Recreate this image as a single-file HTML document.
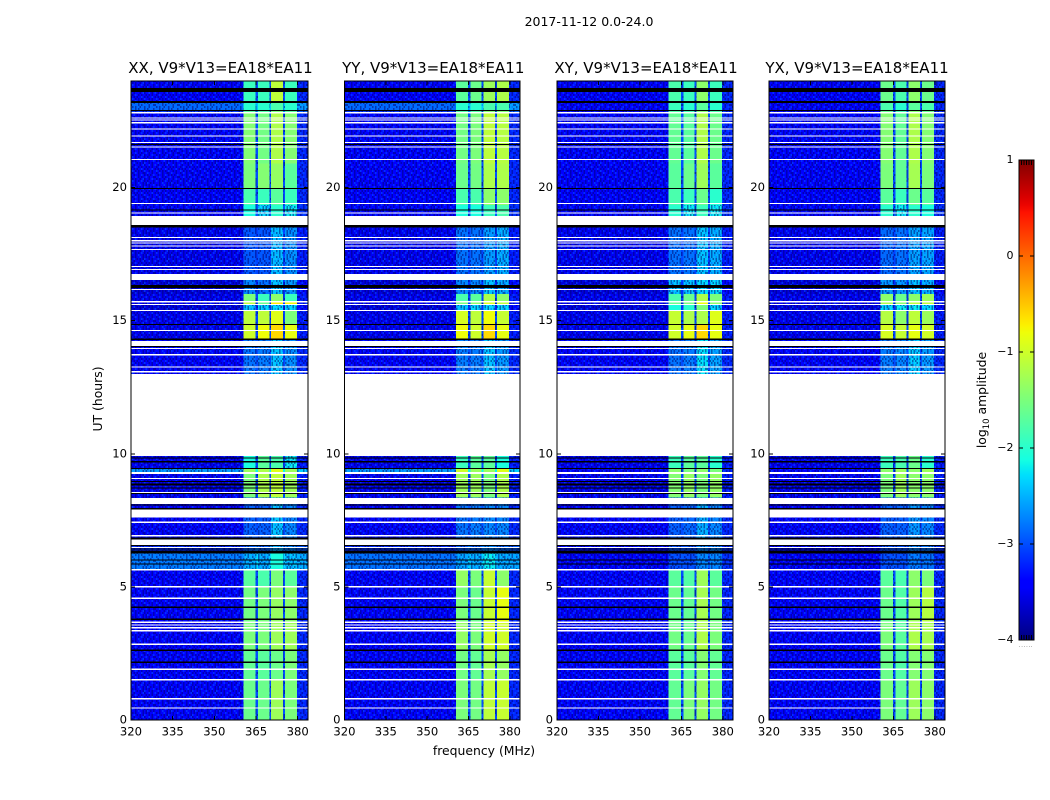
<!DOCTYPE html>
<html lang="en">
<head>
<meta charset="utf-8">
<title>2017-11-12 0.0-24.0 dynamic spectra</title>
<style>
html,body{margin:0;padding:0;background:#fff;}
svg{display:block;}
text{font-family:"DejaVu Sans","Liberation Sans",sans-serif;fill:#000;}
</style>
</head>
<body>
<svg id="figure" xmlns="http://www.w3.org/2000/svg" width="1050" height="800" viewBox="0 0 1050 800">
  <defs>
    <linearGradient id="jetGradient" x1="0" y1="1" x2="0" y2="0"></linearGradient>
    <pattern id="speckle" patternUnits="userSpaceOnUse" width="24" height="24"></pattern>
  </defs>
  <rect width="1050" height="800" fill="#fff"/>
  <text x="589" y="26" text-anchor="middle" font-size="12.5">2017-11-12 0.0-24.0</text>
  <g id="panels"></g>
  <text transform="translate(102,399) rotate(-90)" text-anchor="middle" font-size="12.4">UT (hours)</text>
  <text x="484" y="755" text-anchor="middle" font-size="12.4">frequency (MHz)</text>
  <g id="colorbar"></g>
  <text transform="translate(986,400) rotate(-90)" text-anchor="middle" font-size="12.4">log<tspan font-size="8.5" dy="3">10</tspan><tspan dy="-3"> amplitude</tspan></text>
  <text x="1026" y="647" text-anchor="middle" font-size="6" letter-spacing="0.5" style="fill:#777">......</text>
</svg>
<script>
// ---- Chart data -------------------------------------------------------
const polarizationTitles = ["XX, V9*V13=EA18*EA11", "YY, V9*V13=EA18*EA11", "XY, V9*V13=EA18*EA11", "YX, V9*V13=EA18*EA11"];
const frequencyTicks = [320, 335, 350, 365, 380];
const hourTicks = [0, 5, 10, 15, 20];
const colorbarTicks = [1, 0, -1, -2, -3, -4];

// Frequency channel groups in MHz: background, four bright sub-bands, notches between them, upper edge
const channelStartMHz = [320, 360.4, 364.8, 365.7, 369.8, 370.4, 374.7, 375.4, 379.7];
const channelEndMHz = [360.4, 364.8, 365.7, 369.8, 370.4, 374.7, 375.4, 379.7, 383.7];
// Which column of a level row each channel reads (0 background, 1-4 sub-bands)
const channelLevelColumn = [0, 1, 0, 2, 0, 3, 0, 4, 0];
// Added log10 amplitude per channel (notches and upper edge sit a little above background)
const channelLevelOffset = [0, 0, 0.45, 0, 0.45, 0, 0.45, 0, 0.25];

// Observation epochs in UT hours
const epochStartHour = [24, 23.2, 22.85, 20.9, 19.95, 19.35, 18.6, 16.55, 16, 15.72, 15.62, 15.4, 14.88, 14.3, 9.92, 9.45, 9.3, 8.35, 6.8, 6.26, 5.65, 5, 3.7, 2.6, 1.5];
const epochEndHour = [23.2, 22.85, 20.9, 19.95, 19.35, 18.9, 16.7, 16, 15.72, 15.62, 15.4, 14.88, 14.3, 13, 9.45, 9.3, 8.35, 6.8, 6.26, 5.65, 5, 3.7, 2.6, 1.5, 0];

// log10 amplitude per epoch: [background, band 1, band 2, band 3, band 4]
const levelsXX = [
[-3.45,-1.9,-1.9,-1.1,-1.9],[-2.85,-2,-2,-1.8,-2],[-3.45,-1.45,-1.55,-1.2,-1.45],[-3.45,-1.5,-1.45,-1.35,-1.7],[-3.45,-1.8,-1.9,-1.7,-1.9],
[-3.4,-2.1,-2.3,-2,-2.2],[-3.5,-2.95,-2.95,-2.45,-2.65],[-3.6,-2.7,-2.8,-2.4,-2.6],[-3.5,-1.5,-1.9,-1.4,-1.9],[-3.5,-1.1,-1.6,-0.7,-0.75],
[-3.6,-2.4,-2.3,-2.3,-2.3],[-3.5,-1.1,-1.1,-0.9,-1.5],[-3.5,-1,-0.8,-0.6,-0.85],[-3.45,-2.8,-2.75,-2.4,-2.65],[-3.5,-2.1,-1.7,-1.8,-2.2],
[-2.6,-1.3,-1.2,-0.9,-1.3],[-3.5,-1.5,-1.2,-1.1,-1.3],[-3.45,-2.9,-2.9,-2.4,-2.7],[-3.2,-2.9,-2.9,-2.5,-2.7],[-2.75,-2.5,-2.5,-2.1,-2.4],
[-3.45,-1.7,-1.8,-1.5,-1.7],[-3.45,-1.55,-1.5,-1.35,-1.4],[-3.45,-1.5,-1.5,-1.3,-1.3],[-3.45,-1.65,-1.7,-1.6,-1.5],[-3.45,-1.6,-1.6,-1.3,-1.5]];
const levelsYY = [
[-3.45,-1.7,-1.6,-1.3,-1.2],[-2.85,-2,-2,-1.8,-1.8],[-3.45,-1.55,-1.5,-1.1,-1.15],[-3.45,-1.6,-1.55,-1.2,-1.2],[-3.45,-1.8,-1.8,-1.4,-1.4],
[-3.4,-2.1,-2.1,-1.9,-1.8],[-3.5,-2.8,-2.8,-2.6,-2.5],[-3.6,-2.7,-2.7,-2.4,-2.5],[-3.5,-1.8,-1.7,-1.2,-1.4],[-3.5,-1.5,-1.4,-0.9,-1.1],
[-3.6,-2.4,-2.3,-2.3,-2.3],[-3.5,-0.95,-1.1,-0.8,-1.05],[-3.5,-0.8,-1,-0.6,-0.85],[-3.45,-2.75,-2.75,-2.4,-2.6],[-3.5,-1.9,-1.7,-1.7,-2.1],
[-2.6,-1,-1.3,-1.3,-0.9],[-3.5,-1.3,-1.3,-1.5,-1.2],[-3.45,-2.8,-2.75,-2.7,-2.7],[-3.2,-2.95,-2.9,-2.7,-2.85],[-2.8,-2.55,-2.5,-2.2,-2.5],
[-3.45,-1.35,-1.5,-1.05,-1.4],[-3.45,-1.5,-1.6,-1.05,-0.85],[-3.45,-1.35,-1.5,-1,-1],[-3.45,-1.55,-1.65,-1.25,-1.35],[-3.45,-1.5,-1.55,-1.1,-1.05]];
const levelsXY = [
[-3.45,-1.8,-1.9,-1.4,-1.9],[-3.45,-1.9,-2,-1.7,-2],[-3.45,-1.65,-1.7,-1.2,-1.6],[-3.45,-1.7,-1.6,-1.3,-1.7],[-3.45,-1.8,-1.9,-1.6,-2],
[-3.4,-2,-2.2,-1.9,-2.2],[-3.5,-2.8,-2.8,-2.4,-2.5],[-3.6,-2.4,-2.4,-2.3,-2.3],[-3.5,-1.8,-1.6,-1.2,-1.5],[-3.5,-1.6,-1.5,-0.8,-1.4],
[-3.6,-2.1,-2,-1.5,-2.3],[-3.5,-1.05,-1.2,-1.2,-0.9],[-3.5,-1,-0.85,-0.6,-0.85],[-3.45,-2.8,-2.75,-2.25,-2.55],[-3.5,-1.9,-1.7,-1.7,-2],
[-3.45,-1.4,-1.5,-1.4,-1.5],[-3.5,-1.45,-1.35,-1.5,-1.35],[-3.45,-2.9,-2.85,-2.5,-2.7],[-3.45,-3,-3,-2.7,-2.7],[-3.4,-3,-3,-2.7,-2.7],
[-3.45,-1.7,-1.75,-1.3,-1.7],[-3.45,-1.6,-1.65,-1.25,-1.55],[-3.45,-1.55,-1.6,-1.2,-1.5],[-3.45,-1.7,-1.7,-1.45,-1.65],[-3.45,-1.65,-1.5,-1.35,-1.55]];
const levelsYX = [
[-3.45,-1.6,-1.8,-1.4,-1.6],[-3.45,-1.8,-2,-1.7,-1.8],[-3.45,-1.45,-1.65,-1.2,-1.45],[-3.45,-1.5,-1.65,-1.25,-1.5],[-3.45,-1.7,-1.9,-1.6,-1.7],
[-3.4,-2,-2.2,-2,-2.1],[-3.5,-2.85,-2.8,-2.55,-2.55],[-3.6,-2.6,-2.6,-2.4,-2.5],[-3.5,-1.4,-1.6,-1.4,-1.3],[-3.5,-1.2,-1.4,-1.1,-1.1],
[-3.6,-2.3,-2.2,-2.2,-2.3],[-3.5,-1.15,-1.4,-1.1,-1.3],[-3.5,-0.95,-1.05,-0.85,-1],[-3.45,-2.75,-2.7,-2.35,-2.6],[-3.5,-1.9,-1.8,-1.6,-2],
[-3.45,-1.4,-1.3,-1.4,-1.3],[-3.5,-1.5,-1.3,-1.4,-1.4],[-3.45,-2.9,-2.9,-2.6,-2.7],[-3.45,-3,-3,-2.7,-2.8],[-3.4,-3,-3,-2.75,-2.8],
[-3.45,-1.7,-1.8,-1.4,-1.5],[-3.45,-1.6,-1.75,-1.3,-1.15],[-3.45,-1.5,-1.7,-1.2,-1.25],[-3.45,-1.6,-1.75,-1.45,-1.45],[-3.45,-1.5,-1.65,-1.3,-1.4]];
const levelsByPolarization = [levelsXX, levelsYY, levelsXY, levelsYX];

// Flagged samples (no data, white): single dumps and longer gaps, in UT hours
const whiteDumpHours = [22.805,22.606,22.531,22.43,22.193,21.93,21.693,21.517,21.055,19.403,19.038,18.126,17.999,17.912,17.8,17.676,17.037,16.924,16.173,15.708,15.61,15.385,14.634,13.958,13.718,13.256,13.079,9.076,8.55,7.424,6.921,6.478,5.006,4.57,3.669,3.567,3.466,3.353,2.843,1.904,1.513,0.8,0.451];
const whiteGapStartHour = [18.926,16.748,14.243,13.004,9.313,8.336,7.912,6.771,5.67];
const whiteGapEndHour = [18.588,16.523,14.044,9.914,9.238,8.111,7.612,6.572,5.606];

// Zero-amplitude samples (black): single dumps and longer runs, in UT hours
const blackDumpHours = [22.89,21.62,19.966,19.151,14.025,9.838,9.7,8.712,8.505,6.553,6.42,6.008,5.858,4.232,3.781,2.617,2.167];
const blackRunStartHour = [23.73,23.244,18.588,16.335,14.882,14.333,9.46,8.974,8.888,8.1,7.96,6.853,6.357];
const blackRunEndHour = [23.58,23.17,18.49,16.233,14.833,14.27,9.42,8.937,8.813,8.047,7.912,6.785,6.26];

// Matplotlib "jet" colormap anchors
const jetRedAt = [0, 0.35, 0.66, 0.89, 1];
const jetRedValue = [0, 0, 1, 1, 0.5];
const jetGreenAt = [0, 0.125, 0.375, 0.64, 0.91, 1];
const jetGreenValue = [0, 0, 1, 1, 0, 0];
const jetBlueAt = [0, 0.11, 0.34, 0.65, 1];
const jetBlueValue = [0.5, 1, 1, 0, 0];

// Receiver-noise texture tile laid over faint channels ('d' darker, 'l' lighter)
const speckleTile = [
"d.d..l.d.d.d..l.",
"l..d.d..l.d.d.d.",
"d.l..d..d.l.d..d",
"d.d.d.l..d..d.l.",
".l.d..dd..l.d.d.",
"d..d.l..d.d..d.l",
"d.d...d.l.d.d.l.",
".dl.d.d...d.l..d",
".d.d..l.d.d..l.d",
"l..d.d...l.d.d.d",
"d..l.d.l.d...d.l",
".d.d.d..d.l.d.d."];

// ---- Layout -----------------------------------------------------------
const SVG_NS = "http://www.w3.org/2000/svg";
const plotTop = 81, plotBottom = 720;
const panelLefts = [131, 344.5, 557, 769];
const panelRights = [308, 520, 733, 945];
const hourMin = 0, hourMax = 24, freqMin = 320, freqMax = 383.7;
const cbLeft = 1019, cbRight = 1034, cbTop = 160, cbBottom = 640, cbMin = -4, cbMax = 1;
const faintLevelLimit = -2.2;

function xScale(panel, mhz) {
  return panelLefts[panel] + (mhz - freqMin) / (freqMax - freqMin) * (panelRights[panel] - panelLefts[panel]);
}
function yScale(hour) {
  return plotBottom - (hour - hourMin) / (hourMax - hourMin) * (plotBottom - plotTop);
}
function cbScale(value) {
  return cbBottom - (value - cbMin) / (cbMax - cbMin) * (cbBottom - cbTop);
}
function piecewise(at, values, t) {
  for (let i = 1; i < at.length; i++) {
    if (t <= at[i]) return values[i - 1] + (values[i] - values[i - 1]) * (t - at[i - 1]) / (at[i] - at[i - 1]);
  }
  return values[values.length - 1];
}
function jet(t) {
  const c = Math.max(0, Math.min(1, t));
  const r = Math.round(255 * piecewise(jetRedAt, jetRedValue, c));
  const g = Math.round(255 * piecewise(jetGreenAt, jetGreenValue, c));
  const b = Math.round(255 * piecewise(jetBlueAt, jetBlueValue, c));
  return "rgb(" + r + "," + g + "," + b + ")";
}
function colorForLevel(level) {
  return jet((level - cbMin) / (cbMax - cbMin));
}
function makeEl(tag, parent) {
  const el = document.createElementNS(SVG_NS, tag);
  parent.appendChild(el);
  return el;
}
function setRect(el, x, y, w, h, fill) {
  el.setAttribute("x", x);
  el.setAttribute("y", y);
  el.setAttribute("width", w);
  el.setAttribute("height", h);
  el.setAttribute("fill", fill);
  el.setAttribute("shape-rendering", "crispEdges");
}
function setLine(el, x1, y1, x2, y2) {
  el.setAttribute("x1", x1);
  el.setAttribute("y1", y1);
  el.setAttribute("x2", x2);
  el.setAttribute("y2", y2);
  el.setAttribute("stroke", "#000");
  el.setAttribute("stroke-width", "1");
  el.setAttribute("shape-rendering", "crispEdges");
}

// ---- Texture and gradient ---------------------------------------------
const patternEl = document.getElementById("speckle");
speckleTile.forEach(function (row, r) {
  row.split("").forEach(function (ch, c) {
    if (ch === ".") return;
    const dot = makeEl("rect", patternEl);
    setRect(dot, c * 1.5, r * 2, 1.5, 2, ch === "d" ? "#00006e" : "#0060ff");
    dot.setAttribute("opacity", "0.5");
  });
});
const gradientEl = document.getElementById("jetGradient");
for (let i = 0; i <= 64; i++) {
  const stop = makeEl("stop", gradientEl);
  stop.setAttribute("offset", (i / 64 * 100) + "%");
  stop.setAttribute("stop-color", jet(i / 64));
}

// ---- Panels -----------------------------------------------------------
const panelsEl = document.getElementById("panels");
polarizationTitles.forEach(function (title, p) {
  const levels = levelsByPolarization[p];
  const g = makeEl("g", panelsEl);
  
  

  // Heatmap cells
  const cells = makeEl("g", g);
  
  
  epochStartHour.forEach(function (startHour, e) {
    const y0 = yScale(startHour), y1 = yScale(epochEndHour[e]);
    channelStartMHz.forEach(function (startMHz, c) {
      const x0 = xScale(p, startMHz), x1 = xScale(p, channelEndMHz[c]);
      const level = levels[e][channelLevelColumn[c]] + channelLevelOffset[c];
      const cell = makeEl("rect", cells);
      setRect(cell, x0, y0, x1 - x0, y1 - y0, colorForLevel(level));
      
      
      if (level <= faintLevelLimit) {
        const noise = makeEl("rect", cells);
        setRect(noise, x0, y0, x1 - x0, y1 - y0, "url(#speckle)");
        
        
      }
    });
  });

  // Flagged samples
  const left = panelLefts[p], width = panelRights[p] - panelLefts[p];
  const flags = makeEl("g", g);
  
  
  whiteGapStartHour.forEach(function (startHour, i) {
    const r = makeEl("rect", flags);
    setRect(r, left, yScale(startHour), width, yScale(whiteGapEndHour[i]) - yScale(startHour), "#fff");
    
    
  });
  whiteDumpHours.forEach(function (hour) {
    const r = makeEl("rect", flags);
    setRect(r, left, yScale(hour) - 0.6, width, 1.2, "#fff");
    
    
  });
  blackRunStartHour.forEach(function (startHour, i) {
    const r = makeEl("rect", flags);
    setRect(r, left, yScale(startHour), width, yScale(blackRunEndHour[i]) - yScale(startHour), "#000");
    
    
  });
  blackDumpHours.forEach(function (hour) {
    const r = makeEl("rect", flags);
    setRect(r, left, yScale(hour) - 0.6, width, 1.2, "#000");
    
    
  });

  // Frame
  const frame = makeEl("rect", g);
  frame.setAttribute("x", left);
  frame.setAttribute("y", plotTop);
  frame.setAttribute("width", width);
  frame.setAttribute("height", plotBottom - plotTop);
  frame.setAttribute("fill", "none");
  frame.setAttribute("stroke", "#000");
  frame.setAttribute("stroke-width", "1");
  
  

  // X ticks and labels
  frequencyTicks.forEach(function (mhz) {
    const x = xScale(p, mhz);
    const bottomTick = makeEl("line", g);
    setLine(bottomTick, x, plotBottom, x, plotBottom - 4);
    
    
    const topTick = makeEl("line", g);
    setLine(topTick, x, plotTop, x, plotTop + 4);
    
    
    const label = makeEl("text", g);
    label.setAttribute("x", x);
    label.setAttribute("y", 735.5);
    label.setAttribute("text-anchor", "middle");
    label.setAttribute("font-size", "11.6");
    label.textContent = mhz;
    
    
  });

  // Y ticks and labels
  hourTicks.forEach(function (hour) {
    const y = yScale(hour);
    const leftTick = makeEl("line", g);
    setLine(leftTick, left, y, left + 4, y);
    
    
    const rightTick = makeEl("line", g);
    setLine(rightTick, left + width, y, left + width - 4, y);
    
    
    const label = makeEl("text", g);
    label.setAttribute("x", left - 4);
    label.setAttribute("y", y + 3.5);
    label.setAttribute("text-anchor", "end");
    label.setAttribute("font-size", "11.6");
    label.textContent = hour;
    
    
  });

  // Title
  const titleEl = makeEl("text", g);
  titleEl.setAttribute("x", (left + left + width) / 2 + (p === 3 ? 0 : 1));
  titleEl.setAttribute("y", 73);
  titleEl.setAttribute("text-anchor", "middle");
  titleEl.setAttribute("font-size", "15");
  titleEl.textContent = title;
  
  
});

// ---- Colorbar ---------------------------------------------------------
const cbEl = document.getElementById("colorbar");
const cbBar = makeEl("rect", cbEl);
cbBar.setAttribute("x", cbLeft);
cbBar.setAttribute("y", cbTop);
cbBar.setAttribute("width", cbRight - cbLeft);
cbBar.setAttribute("height", cbBottom - cbTop);
cbBar.setAttribute("fill", "url(#jetGradient)");
cbBar.setAttribute("stroke", "#000");
cbBar.setAttribute("stroke-width", "1");


colorbarTicks.forEach(function (value) {
  const y = cbScale(value);
  const tickLeft = makeEl("line", cbEl);
  setLine(tickLeft, cbLeft, y, cbLeft + 4, y);
  
  
  const tickRight = makeEl("line", cbEl);
  setLine(tickRight, cbRight, y, cbRight - 4, y);
  
  
  const label = makeEl("text", cbEl);
  label.setAttribute("x", 1013.5);
  label.setAttribute("y", y + 3);
  label.setAttribute("text-anchor", "end");
  label.setAttribute("font-size", "11");
  label.textContent = String(value).replace("-", "\u2212");
  
  
});
[1, 2, 3, 4, 5].forEach(function (n) {
  const x = cbLeft + n * (cbRight - cbLeft) / 6;
  const topMinor = makeEl("line", cbEl);
  setLine(topMinor, x, cbTop, x, cbTop + 5);
  
  
  const bottomMinor = makeEl("line", cbEl);
  setLine(bottomMinor, x, cbBottom, x, cbBottom - 5);
  
  
});
</script>
</body>
</html>
